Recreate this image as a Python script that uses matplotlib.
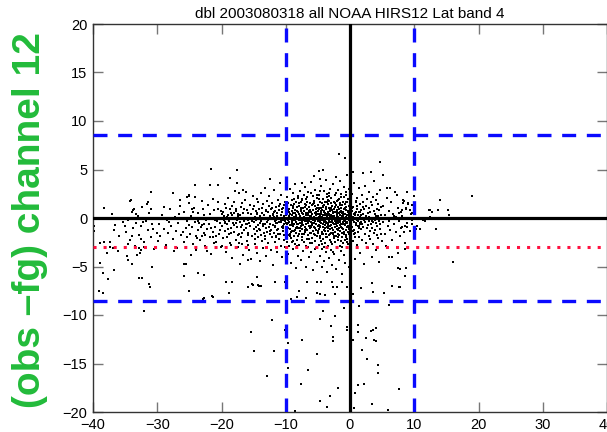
import matplotlib
matplotlib.use("Agg")
import matplotlib.pyplot as plt
import numpy as np

plt.rcParams['font.family'] = ['Liberation Sans', 'DejaVu Sans']

title = "dbl 2003080318 all NOAA HIRS12 Lat band 4"
ylabel = "(obs \u2013fg) channel 12"
xticks = [-40, -30, -20, -10, 0, 10, 20, 30, 40]
yticks = [-20, -15, -10, -5, 0, 5, 10, 15, 20]
box_x = [-10, 10]
box_y = [-8.6, 8.6]
bias_y = -3.0

# dense cloud, read band by band (x, y)
band_left = [(-34.8,-1.4),(-34.5,-0.2),(-34.3,-2.3),(-34.0,0.6),(-33.8,-1.0),(-33.5,-2.9),(-33.3,-0.5),(-33.0,0.2),
    (-32.8,-1.8),(-32.5,-0.8),(-32.3,1.1),(-32.0,-2.5),(-31.8,-0.3),(-31.5,-1.2),(-31.3,0.5),(-31.0,-2.0),(-30.8,-0.6),
    (-30.5,-3.2),(-30.3,0.0),(-30.1,-1.5),(-34.6,-2.7),(-33.6,0.9),(-32.6,-2.2),(-31.6,1.4),(-30.6,-1.1),(-32.9,-3.1),
    (-31.1,-0.1),(-33.9,-1.9),(-30.9,0.9),(-32.2,-0.4),
    (-29.8,-0.6),(-29.5,-1.9),(-29.2,0.3),(-29.0,-1.1),(-28.7,-2.8),(-28.5,-0.2),(-28.3,-1.5),(-28.0,0.9),(-27.8,-0.8),
    (-27.6,-2.2),(-27.3,0.1),(-27.1,-1.3),(-26.9,-3.1),(-26.7,-0.5),(-26.5,1.2),(-26.3,-1.8),(-26.1,-0.1),(-25.9,-2.5),
    (-25.8,0.6),(-25.6,-1.0),(-25.4,-0.3),(-25.3,-2.0),(-25.1,1.5),(-25.0,-0.7),(-29.9,-2.4),(-28.9,1.1),(-27.4,-3.4),
    (-26.0,-1.4),(-28.1,-0.4),(-26.6,0.4)]

band_mid = [(-24.9,-1.6),(-24.8,0.2),(-24.6,-0.9),(-24.5,-2.7),(-24.3,1.0),(-24.2,-0.4),(-24.0,-1.9),(-23.9,-3.3),
    (-23.7,0.5),(-23.6,-1.2),(-23.4,-0.1),(-23.3,-2.3),(-23.1,1.8),(-23.0,-0.7),(-22.8,-1.5),(-22.7,0.3),(-22.5,-2.9),
    (-22.4,-0.2),(-22.2,-1.1),(-22.1,1.3),(-21.9,-0.6),(-21.8,-2.0),(-21.6,-3.7),(-21.5,0.0),(-21.3,-1.4),(-21.2,0.8),
    (-21.0,-0.9),(-20.9,-2.5),(-20.7,-0.3),(-20.6,1.6),(-20.4,-1.7),(-20.3,-0.5),(-20.1,-3.0),(-20.0,0.4),(-24.7,-3.8),
    (-24.1,2.2),(-23.5,-0.5),(-22.9,0.9),(-22.3,-3.4),(-21.7,-1.0),(-21.1,-2.6),(-20.5,0.9),(-20.2,-1.2),(-23.8,-2.1),
    (-22.6,-1.8),(-21.4,2.0),(-24.4,0.6),(-23.2,-0.9),(-22.0,-0.1),(-20.8,-1.9),
    (-19.9,-0.8),(-19.8,0.6),(-19.7,-2.1),(-19.6,-0.2),(-19.5,1.4),(-19.4,-1.3),(-19.3,-3.5),(-19.2,0.1),(-19.1,-0.6),
    (-19.0,2.1),(-18.9,-1.7),(-18.8,-0.3),(-18.7,0.9),(-18.6,-2.6),(-18.5,-1.0),(-18.4,0.3),(-18.3,-4.1),(-18.2,-0.5),
    (-18.1,1.7),(-18.0,-1.4),(-17.9,-0.1),(-17.8,-2.3),(-17.7,0.7),(-17.6,-0.9),(-17.5,-3.0),(-17.4,0.2),(-17.3,2.6),
    (-17.2,-1.6),(-17.1,-0.4),(-17.0,1.1),(-16.9,-2.0),(-16.8,-0.7),(-16.7,0.5),(-16.6,-3.8),(-16.5,-1.2),(-16.4,0.0),
    (-16.3,1.9),(-16.2,-0.6),(-16.1,-2.4),(-16.0,0.8),(-15.9,-1.5),(-15.8,-0.2),(-15.7,-3.3),(-15.6,1.3),(-15.5,-0.8),
    (-15.4,0.4),(-15.3,-1.9),(-15.2,-0.3),(-15.1,2.3),(-15.0,-1.1),(-19.85,-2.9),(-19.25,1.0),(-18.65,-0.1),(-18.05,0.5),
    (-17.45,-1.8),(-16.85,1.5),(-16.25,-1.0),(-15.65,-0.5),(-15.05,0.9),(-19.55,0.2),(-18.95,-1.1),(-18.35,1.2),
    (-17.75,-0.5),(-17.15,0.3),(-16.55,-0.3),(-15.95,-2.8),(-15.35,-4.2),(-17.95,2.8),(-16.15,2.7),(-18.45,-2.8),
    (-24.55,0.9),(-23.65,-0.3),(-22.75,-0.6),(-21.85,0.4),(-20.95,-0.2),(-20.15,0.7),(-19.45,-0.4),(-18.55,0.5),
    (-17.65,-0.2),(-16.75,-1.5),(-15.85,0.5),(-19.15,-2.0),(-17.35,-2.6),(-21.25,-2.0),(-23.05,-1.9)]

band_core = [(-14.95,-0.4),(-14.9,1.2),(-14.85,-1.6),(-14.8,0.1),(-14.75,-2.7),(-14.7,-0.9),(-14.65,0.7),(-14.6,-0.2),
    (-14.55,2.0),(-14.5,-1.3),(-14.45,-3.6),(-14.4,0.4),(-14.35,-0.7),(-14.3,1.6),(-14.25,-2.0),(-14.2,-0.1),(-14.15,0.9),
    (-14.1,-1.1),(-14.05,-4.4),(-14.0,0.2),(-13.95,-0.5),(-13.9,2.6),(-13.85,-1.8),(-13.8,-0.3),(-13.75,1.0),(-13.7,-2.4),
    (-13.65,0.5),(-13.6,-0.8),(-13.55,-3.1),(-13.5,1.4),(-13.45,-0.1),(-13.4,-1.5),(-13.35,0.3),(-13.3,3.1),(-13.25,-0.6),
    (-13.2,-2.2),(-13.15,0.8),(-13.1,-1.0),(-13.05,0.0),(-13.0,-3.9),(-12.95,1.8),(-12.9,-0.4),(-12.85,-1.4),(-12.8,0.6),
    (-12.75,-2.6),(-12.7,-0.2),(-12.65,1.2),(-12.6,-0.9),(-12.55,2.3),(-12.5,-1.7),(-12.45,0.2),(-12.4,-0.6),(-12.35,-3.3),
    (-12.3,0.9),(-12.25,-1.2),(-12.2,-0.1),(-12.15,1.5),(-12.1,-2.0),(-12.05,0.4),(-12.0,-0.7),(-11.95,-4.8),(-11.9,0.1),
    (-11.85,2.9),(-11.8,-1.5),(-11.75,-0.3),(-11.7,0.7),(-11.65,-2.5),(-11.6,-0.8),(-11.55,1.1),(-11.5,-0.2),(-11.45,-1.9),
    (-11.4,0.5),(-11.35,-3.5),(-11.3,-0.5),(-11.25,1.9),(-11.2,-1.1),(-11.15,0.0),(-11.1,-2.2),(-11.05,0.8),(-11.0,-0.4),
    (-10.95,1.4),(-10.9,-1.6),(-10.85,-0.1),(-10.8,-2.9),(-10.75,0.3),(-10.7,2.4),(-10.65,-0.9),(-10.6,-4.0),(-10.55,0.6),
    (-10.5,-1.3),(-10.45,-0.2),(-10.4,1.0),(-10.35,-2.3),(-10.3,-0.6),(-10.25,0.2),(-10.2,-1.8),(-10.15,1.7),(-10.1,-0.3),
    (-10.05,-3.0),(-10.0,0.5),
    (-9.97,0.3),(-9.93,-1.4),(-9.90,1.1),(-9.87,-0.6),(-9.83,-2.5),(-9.80,0.0),(-9.77,2.2),(-9.73,-0.9),(-9.70,-3.7),
    (-9.67,0.6),(-9.63,-0.2),(-9.60,1.5),(-9.57,-1.8),(-9.53,-0.4),(-9.50,0.9),(-9.47,-2.9),(-9.43,0.2),(-9.40,-1.1),
    (-9.37,3.0),(-9.33,-0.7),(-9.30,0.4),(-9.27,-1.6),(-9.23,-4.6),(-9.20,1.3),(-9.17,-0.1),(-9.13,-2.1),(-9.10,0.7),
    (-9.07,-0.5),(-9.03,1.9),(-9.00,-1.3),(-8.97,-0.3),(-8.93,0.5),(-8.90,-3.2),(-8.87,1.0),(-8.83,-0.8),(-8.80,2.6),
    (-8.77,-1.9),(-8.73,0.1),(-8.70,-0.6),(-8.67,1.4),(-8.63,-2.7),(-8.60,-0.2),(-8.57,0.8),(-8.53,-1.2),(-8.50,3.5),
    (-8.47,-0.4),(-8.43,-5.2),(-8.40,0.3),(-8.37,-1.5),(-8.33,1.7),(-8.30,-0.9),(-8.27,0.0),(-8.23,-2.3),(-8.20,1.1),
    (-8.17,-0.6),(-8.13,-3.9),(-8.10,0.6),(-8.07,-1.0),(-8.03,2.1),(-8.00,-0.2),(-7.97,-1.7),(-7.93,0.4),(-7.90,-2.8),
    (-7.87,1.2),(-7.83,-0.5),(-7.80,2.8),(-7.77,-1.3),(-7.73,0.2),(-7.70,-0.8),(-7.67,1.6),(-7.63,-4.3),(-7.60,-0.1),
    (-7.57,0.9),(-7.53,-2.0),(-7.50,-0.4),(-7.47,1.9),(-7.43,-1.1),(-7.40,0.5),(-7.37,-3.4),(-7.33,-0.7),(-7.30,1.0),
    (-7.27,-0.2),(-7.23,2.4),(-7.20,-1.6),(-7.17,0.1),(-7.13,-2.5),(-7.10,0.7),(-7.07,-0.9),(-7.03,3.2),(-7.00,-0.3),
    (-6.97,-1.4),(-6.93,1.4),(-6.90,-5.0),(-6.87,0.3),(-6.83,-0.6),(-6.80,2.0),(-6.77,-2.2),(-6.73,-0.1),(-6.70,0.9),
    (-6.67,-1.2),(-6.63,1.7),(-6.60,-3.0),(-6.57,-0.5),(-6.53,0.5),(-6.50,-1.8),(-6.47,2.7),(-6.43,-0.3),(-6.40,-4.0),
    (-6.37,1.1),(-6.33,-0.8),(-6.30,0.2),(-6.27,-2.6),(-6.23,1.5),(-6.20,-1.0),(-6.17,0.0),(-6.13,3.7),(-6.10,-1.5),
    (-6.07,0.6),(-6.03,-0.4),(-6.00,-3.5),(-5.97,1.3),(-5.93,-0.7),(-5.90,0.4),(-5.87,-2.1),(-5.83,2.3),(-5.80,-0.2),
    (-5.77,-1.3),(-5.73,0.8),(-5.70,-5.4),(-5.67,-0.5),(-5.63,1.8),(-5.60,-1.7),(-5.57,0.1),(-5.53,-0.9),(-5.50,2.9),
    (-5.47,-2.4),(-5.43,0.5),(-5.40,-0.3),(-5.37,1.2),(-5.33,-1.2),(-5.30,-3.1),(-5.27,0.3),(-5.23,-0.6),(-5.20,2.1),
    (-5.17,-1.9),(-5.13,0.0),(-5.10,1.0),(-5.07,-4.5),(-5.03,-0.8),(-5.00,0.7)]

band_peak = [(-4.98,-0.3),(-4.95,1.3),(-4.93,-1.5),(-4.90,0.4),(-4.88,-2.8),(-4.85,-0.7),(-4.83,2.4),(-4.80,0.1),
    (-4.78,-1.1),(-4.75,0.9),(-4.73,-3.9),(-4.70,-0.4),(-4.68,1.7),(-4.65,-1.9),(-4.63,0.2),(-4.60,-0.8),(-4.58,3.3),
    (-4.55,-0.1),(-4.53,-2.4),(-4.50,1.0),(-4.48,-0.5),(-4.45,0.6),(-4.43,-1.4),(-4.40,-5.1),(-4.38,1.5),(-4.35,-0.2),
    (-4.33,-3.2),(-4.30,0.8),(-4.28,-0.9),(-4.25,2.0),(-4.23,-1.7),(-4.20,0.3),(-4.18,-0.6),(-4.15,1.2),(-4.13,-2.2),
    (-4.10,-0.3),(-4.08,0.7),(-4.05,-4.4),(-4.03,2.8),(-4.00,-1.2),(-3.98,0.0),(-3.95,-0.7),(-3.93,1.6),(-3.90,-2.6),
    (-3.88,0.5),(-3.85,-1.0),(-3.83,-0.2),(-3.80,3.9),(-3.78,-1.6),(-3.75,0.9),(-3.73,-3.5),(-3.70,-0.4),(-3.68,1.1),
    (-3.65,-0.9),(-3.63,2.2),(-3.60,-2.0),(-3.58,0.2),(-3.55,-0.5),(-3.53,-5.6),(-3.50,1.4),(-3.48,-1.3),(-3.45,0.6),
    (-3.43,-0.1),(-3.40,-2.9),(-3.38,1.9),(-3.35,-0.6),(-3.33,0.4),(-3.30,-1.8),(-3.28,2.6),(-3.25,-0.3),(-3.23,-4.1),
    (-3.20,1.0),(-3.18,-1.1),(-3.15,0.1),(-3.13,-0.8),(-3.10,3.0),(-3.08,-2.3),(-3.05,0.7),(-3.03,-0.4),(-3.00,1.5),
    (-2.98,-1.5),(-2.95,-3.3),(-2.93,0.3),(-2.90,-0.7),(-2.88,2.1),(-2.85,-1.0),(-2.83,0.8),(-2.80,-2.7),(-2.78,-0.2),
    (-2.75,1.2),(-2.73,-4.8),(-2.70,-0.5),(-2.68,0.5),(-2.65,-1.7),(-2.63,3.5),(-2.60,-0.1),(-2.58,-1.2),(-2.55,1.7),
    (-2.53,-2.1),(-2.50,0.2),(-2.48,-0.6),(-2.45,0.9),(-2.43,-3.7),(-2.40,-0.9),(-2.38,2.4),(-2.35,-0.3),(-2.33,-1.4),
    (-2.30,0.6),(-2.28,-2.5),(-2.25,1.3),(-2.23,-0.4),(-2.20,-5.3),(-2.18,0.0),(-2.15,-1.9),(-2.13,4.2),(-2.10,-0.8),
    (-2.08,0.4),(-2.05,-1.1),(-2.03,1.8),(-2.00,-3.0),(-1.98,-0.2),(-1.95,0.8),(-1.93,-1.6),(-1.90,2.9),(-1.88,-0.5),
    (-1.85,-2.3),(-1.83,0.1),(-1.80,1.1),(-1.78,-1.0),(-1.75,-4.3),(-1.73,0.5),(-1.70,-0.3),(-1.68,2.0),(-1.65,-1.8),
    (-1.63,-0.7),(-1.60,0.3),(-1.58,-2.9),(-1.55,1.5),(-1.53,-0.4),(-1.50,3.8),(-1.48,-1.3),(-1.45,0.7),(-1.43,-0.1),
    (-1.40,-3.4),(-1.38,1.0),(-1.35,-0.9),(-1.33,2.5),(-1.30,-2.0),(-1.28,0.2),(-1.25,-0.6),(-1.23,-5.8),(-1.20,1.3),
    (-1.18,-1.5),(-1.15,0.0),(-1.13,-2.6),(-1.10,1.7),(-1.08,-0.4),(-1.05,0.6),(-1.03,-1.1),(-1.00,3.2),(-0.98,-3.8),
    (-0.95,-0.2),(-0.93,0.9),(-0.90,-1.7),(-0.88,2.2),(-0.85,-0.7),(-0.83,0.4),(-0.80,-2.3),(-0.78,1.4),(-0.75,-0.3),
    (-0.73,-4.6),(-0.70,0.8),(-0.68,-1.2),(-0.65,2.7),(-0.63,-0.5),(-0.60,0.1),(-0.58,-2.0),(-0.55,1.1),(-0.53,-0.9),
    (-0.50,4.4),(-0.48,-3.1),(-0.45,0.3),(-0.43,-0.4),(-0.40,1.6),(-0.38,-1.4),(-0.35,-0.1),(-0.33,2.0),(-0.30,-2.7),
    (-0.28,0.6),(-0.25,-0.8),(-0.23,-5.0),(-0.20,1.2),(-0.18,-0.2),(-0.15,-1.6),(-0.13,3.0),(-0.10,0.4),(-0.08,-1.0),
    (-0.05,-3.6),(-0.03,0.9)]

# extra points where the cloud is nearly solid
band_dense = [(-11.9,0.6),(-11.7,-0.9),(-11.4,0.2),(-11.2,-1.7),(-11.0,1.2),(-10.8,-0.4),(-10.6,0.9),(-10.4,-1.0),
    (-10.2,0.1),(-10.0,-2.1),(-9.85,1.7),(-9.65,-0.5),(-9.45,0.6),(-9.25,-1.4),(-9.05,0.3),(-8.85,-0.2),(-8.65,2.0),
    (-8.45,-1.0),(-8.25,0.7),(-8.05,-1.9),(-7.85,0.0),(-7.65,1.0),(-7.45,-0.6),(-7.25,0.4),(-7.05,-1.2),(-6.85,1.3),
    (-6.65,-0.3),(-6.45,0.7),(-6.25,-1.5),(-6.05,0.2),(-5.85,-0.5),(-5.65,1.5),(-5.45,-1.0),(-5.25,0.6),(-5.05,-0.1),
    (-4.87,2.0),(-4.72,-0.9),(-4.57,0.4),(-4.42,-1.6),(-4.27,1.1),(-4.12,-0.4),(-3.97,0.6),(-3.82,-1.3),(-3.67,0.0),
    (-3.52,1.7),(-3.37,-0.8),(-3.22,0.3),(-3.07,-1.6),(-2.92,1.0),(-2.77,-0.3),(-2.62,0.6),(-2.47,-1.9),(-2.32,1.5),
    (-2.17,-0.6),(-2.02,0.2),(-1.87,-1.2),(-1.72,0.9),(-1.57,-0.2),(-1.42,2.2),(-1.27,-1.0),(-1.12,0.4),(-0.97,-0.6),
    (-0.82,1.0),(-0.67,-1.8),(-0.52,0.0),(-0.37,0.7),(-0.22,-1.1),(-0.07,1.4),(0.15,-0.3),(0.35,1.0),(0.55,-1.6),
    (0.75,0.3),(0.95,-0.5),(1.15,1.2),(1.35,-1.0),(1.55,0.1),(1.75,-0.4),(1.95,1.1),(-4.6,-0.2),(-3.9,0.3),(-3.2,-0.4),
    (-2.5,0.1),(-1.8,-0.3),(-1.1,0.2),(-0.4,-0.5),(-5.3,0.9),(-6.1,-0.8),(-6.9,0.5),(-7.6,-0.2),(-8.4,0.2),(-9.1,-0.7),
    (-9.8,0.4),(-10.7,-0.2),(-11.5,-0.5),(-2.9,-2.5),(-2.2,2.6),(-1.4,-2.4),(-0.6,2.4),(-3.6,2.5),(-4.4,-2.7),(-5.1,2.4),
    (-5.9,-2.6),(-6.7,2.2),(-7.4,-2.3),(-8.1,2.3),(-8.8,-2.4),(-0.9,-0.1),(-1.6,0.6),(-2.4,-0.9),(-3.1,0.8),(-3.8,-0.5),
    (-4.5,0.7),(-5.5,-0.3),(-6.3,0.8),
    (-9.9,-0.5),(-9.6,0.8),(-9.4,-1.9),(-9.2,0.0),(-8.9,1.2),(-8.7,-1.3),(-8.5,0.5),(-8.3,-0.6),(-8.0,1.5),(-7.8,-1.0),
    (-7.6,0.7),(-7.4,-1.7),(-7.2,-0.1),(-7.0,1.1),(-6.8,-1.1),(-6.6,0.3),(-6.4,-2.2),(-6.2,0.6),(-6.0,-0.9),(-5.8,1.4),
    (-5.6,-0.2),(-5.4,-1.8),(-5.2,0.4),(-5.0,-1.3),(-4.8,1.0),(-4.6,-2.1),(-4.4,0.1),(-4.2,-0.9),(-4.0,1.3),(-3.8,-2.0),
    (-3.6,0.4),(-3.4,-1.0),(-3.2,1.8),(-3.0,-0.7),(-2.8,0.2),(-2.6,-1.5),(-2.4,1.1),(-2.2,-0.2),(-2.0,0.6),(-1.8,-2.0),
    (-1.6,1.3),(-1.4,-0.6),(-1.2,0.5),(-1.0,-1.4),(-0.8,-0.3),(-0.6,1.7),(-0.4,-2.2),(-0.2,0.2),(0.0,-0.7),(0.2,1.2),
    (0.4,-1.3),(0.6,0.4),(0.8,-2.0),(1.0,1.6),(1.2,-0.8),(1.4,0.6),(-9.7,-1.0),(-9.0,-2.5),(-8.2,-2.9),(-7.5,2.0),
    (-6.8,-2.9),(-6.1,2.6),(-5.4,-3.2),(-4.7,2.8),(-4.0,-3.0),(-3.3,2.3),(-2.6,-3.5),(-1.9,1.9),(-1.2,-3.0),(-0.5,-2.5),
    (-13.5,-0.6),(-13.0,0.7),(-12.5,-1.3),(-12.0,0.3),(-11.5,-2.0),(-11.0,0.0),(-10.5,-0.8),(-14.0,-1.2),(-14.5,0.5),
    (-15.5,0.0),(-16.0,-0.6),(-16.5,0.9),(-17.0,-0.9),(-17.5,0.4),(-18.0,-0.7),(-18.5,-1.5),(-19.0,0.3),(-19.5,-0.5),
    (-13.2,-1.9),(-12.2,1.0),(-11.3,-1.2),(-10.3,1.3),(-14.8,-2.2),(-15.8,-1.8),(-16.8,-2.7),(-17.8,0.9)]

band_right = [(0.03,-0.5),(0.08,1.5),(0.13,-1.8),(0.18,0.2),(0.23,-3.3),(0.28,2.5),(0.33,-0.9),(0.38,0.7),(0.43,-0.2),
    (0.48,-2.4),(0.53,1.1),(0.58,-1.2),(0.63,3.6),(0.68,-0.4),(0.73,0.5),(0.78,-4.2),(0.83,-1.5),(0.88,1.8),(0.93,-0.1),
    (0.98,-0.7),(1.03,0.9),(1.08,-2.8),(1.13,2.1),(1.18,-0.3),(1.23,-1.4),(1.28,0.3),(1.33,-0.8),(1.38,3.1),(1.43,-2.0),
    (1.48,0.6),(1.53,-0.5),(1.58,1.4),(1.63,-3.6),(1.68,-0.1),(1.73,0.8),(1.78,-1.1),(1.83,2.4),(1.88,-0.6),(1.93,-2.3),
    (1.98,0.4),(2.03,-0.9),(2.08,1.6),(2.13,-4.7),(2.18,-0.2),(2.23,0.9),(2.28,-1.6),(2.33,3.3),(2.38,-0.4),(2.43,0.2),
    (2.48,-2.6),(2.53,1.2),(2.58,-1.0),(2.63,-0.1),(2.68,2.0),(2.73,-3.1),(2.78,0.5),(2.83,-0.7),(2.88,1.0),(2.93,-1.9),
    (2.98,2.7),(3.03,-0.3),(3.08,-1.3),(3.13,0.6),(3.18,-2.2),(3.23,1.7),(3.28,-0.6),(3.33,0.0),(3.38,-4.0),(3.43,1.3),
    (3.48,-1.0),(3.53,2.2),(3.58,-0.4),(3.63,-2.7),(3.68,0.7),(3.73,-1.5),(3.78,3.8),(3.83,-0.2),(3.88,0.4),(3.93,-1.2),
    (3.98,1.9),(4.03,-3.3),(4.08,-0.5),(4.13,0.9),(4.18,-1.8),(4.23,2.5),(4.28,-0.8),(4.33,0.2),(4.38,-2.1),(4.43,1.4),
    (4.48,-0.3),(4.53,-4.5),(4.58,0.8),(4.63,-1.1),(4.68,2.9),(4.73,-0.6),(4.78,0.3),(4.83,-1.6),(4.88,1.1),(4.93,-2.4),
    (4.98,-0.1),(0.50,0.1),(1.10,-0.2),(1.70,0.3),(2.30,-0.4),(2.90,0.1),(3.50,-0.3),(4.10,0.2),(0.20,-0.9),(0.90,0.6),
    (1.60,-0.6),
    (5.1,-0.4),(5.2,1.2),(5.4,-1.6),(5.5,0.3),(5.6,-2.9),(5.8,2.1),(5.9,-0.8),(6.0,0.7),(6.2,-1.2),(6.3,-0.1),(6.4,1.6),
    (6.6,-2.3),(6.7,0.4),(6.8,-0.6),(7.0,2.7),(7.1,-1.4),(7.2,0.1),(7.4,-3.6),(7.5,1.0),(7.6,-0.3),(7.8,-1.9),(7.9,0.6),
    (8.1,-0.9),(8.2,1.9),(8.4,0.0),(8.5,-2.6),(8.7,0.9),(8.9,-0.5),(9.1,1.4),(9.3,-1.3),(9.5,0.4),(9.7,-0.2),(9.9,2.3),
    (5.3,-0.1),(6.1,-0.3),(6.9,0.2),(7.7,0.5),(5.7,3.1),(6.5,-4.0),(7.3,2.4)]

# isolated points
tail_below = [(-19.3,-6.6),(-18.4,-6.6),(-21.5,-8.0),(-22.9,-8.3),(-18.8,-7.7),(-15.3,-6.8),(-15.1,-6.9),(-14.2,-7.0),
    (-13.8,-7.0),(-15.9,-7.1),(-11.7,-6.6),(-10.1,-6.6),(-9.2,-8.3),(-8.3,-8.1),(-7.9,-7.5),(-6.9,-8.2),(-6.7,-6.6),
    (-5.2,-6.6),(-5.1,-7.7),(-4.6,-7.8),(-3.9,-7.9),(-4.5,-6.6),(-2.8,-6.6),(-2.6,-7.1),(-2.3,-7.8),(-2.1,-7.1),
    (-1.3,-6.6),(-0.5,-7.1),(0.4,-7.8),(1.7,-7.2),(3.4,-6.7),(3.6,-7.6),(5.3,-7.7),(6.5,-7.0),(7.7,-7.1),(6.0,-9.0),
    (1.4,-9.1),(-0.9,-9.3),(-4.2,-9.6),(-2.4,-10.1),(-4.7,-10.4),(-12.2,-10.5),(-10.1,-11.5),(-15.4,-11.8),(-3.0,-11.1),
    (-0.5,-11.2),(-0.5,-11.5),(1.3,-11.0),(1.3,-11.8),(3.2,-11.6),(3.6,-11.5),(4.0,-11.3),(2.5,-12.4),(3.8,-12.6),
    (4.0,-12.7),(-2.6,-12.3),(-2.7,-12.7),(0.5,-12.6),(-7.4,-12.6),(-9.7,-12.9),(-14.9,-13.7),(-11.8,-13.7),(-5.1,-14.0),
    (-10.0,-14.0),(1.8,-13.6),(2.7,-14.5),(4.4,-15.2),(4.4,-16.0),(-6.6,-15.7),(-9.7,-15.5),(-12.9,-16.3),(-7.6,-17.1),
    (-1.9,-17.5),(1.2,-17.2),(0.8,-18.0),(2.2,-17.1),(7.7,-17.6),(-3.1,-18.4),(-4.6,-18.9),(-3.6,-19.5),(0.7,-19.6),
    (3.5,-19.2),(5.9,-19.8),(-8.6,-19.9)]

tail_right = [(-1.7,6.6),(-0.8,6.2),(4.6,5.8),(-4.9,4.8),(-4.2,4.9),(-5.6,4.3),(-4.7,4.0),(-7.5,3.6),(-12.5,4.0),
    (-10.9,3.6),(0.5,4.7),(2.0,4.6),(3.2,4.7),(5.1,4.4),(6.2,3.1),(8.8,2.7),(8.4,1.8),(14.0,1.9),(12.4,0.8),(13.7,0.8),
    (15.3,0.8),(11.4,-0.2),(13.4,-1.1),(10.3,-1.1),(10.9,-1.1),(7.5,-5.2),(8.7,-5.2),(8.6,-6.0),(6.0,-4.0),(19.0,2.3),
    (15.4,0.3),(12.3,0.8),(12.7,0.6),(12.5,0.1),(11.7,-0.3),(16.0,-4.5),(8.2,1.5),(9.0,1.5),(9.7,1.3),(8.7,1.0),
    (8.1,0.8),(9.3,0.8),(9.6,0.5),(8.1,0.2),(8.0,-1.0),(8.5,-0.8),(8.9,-0.9),(8.4,-1.4),(9.6,-0.6),(10.0,-0.9),
    (10.5,-0.8),(8.6,-3.2),(7.8,-5.3),(8.5,-6.0),(7.8,-7.1)]

tail_left = [(-21.6,5.1),(-24.2,3.4),(-21.8,3.4),(-30.9,2.7),(-27.5,2.6),(-34.2,1.8),(-31.4,1.7),(-38.3,1.0),
    (-33.7,0.8),(-33.3,0.4),(-37.1,0.4),(-39.8,-0.8),(-39.8,-1.3),(-36.6,-0.7),(-36.8,-1.2),(-35.3,-0.4),(-35.0,-0.8),
    (-36.0,-1.9),(-38.9,-2.6),(-38.3,-2.5),(-37.3,-2.5),(-37.8,-3.6),(-36.1,-3.4),(-34.7,-3.9),(-34.0,-4.7),(-38.9,-4.6),
    (-38.4,-5.7),(-37.7,-6.3),(-36.8,-5.4),(-32.9,-6.2),(-30.8,-5.1),(-31.3,-6.8),(-25.6,-4.7),(-25.8,-6.0),(-25.0,-7.5),
    (-23.7,-5.7),(-22.7,-5.9),(-39.0,-7.5),(-32.0,-9.6),(-22.7,-8.2),(-33.2,-3.8),(-32.7,-3.6),(-32.5,-3.3),(-32.1,-3.0),
    (-34.6,-4.3),(-37.3,-3.0),(-36.9,-3.1),(-26.5,1.9),(-25.4,2.2),(-25.0,2.4),(-17.6,4.9),(-17.6,3.6),(-18.7,4.1),
    (-20.5,3.4),(-25.1,2.3),(-34.1,1.9),(-16.6,2.9),(-31.2,-7.1),(-38.5,-7.7),(-21.3,-8.1),(-17.1,-4.7),(-15.8,-4.3),
    (-14.5,-6.1),(-14.3,-6.9),(-25.9,-4.7),(-30.8,-5.0),(-32.4,-6.2)]

pts = np.array(band_left + band_mid + band_core + band_peak + band_dense + band_right
               + tail_below + tail_right + tail_left)

fig = plt.figure(figsize=(6.07, 4.32), dpi=100)
ax = fig.add_axes([93/607, 20/432, 514/607, 388/432])

ax.plot(pts[:, 0], pts[:, 1], 's', color='black', markersize=2.1, markeredgewidth=0, zorder=2)

for xv in box_x:
    ax.axvline(xv, color='#0a0aff', lw=2.4, linestyle=(0, (4.2, 3.2)), zorder=3)
for yv in box_y:
    ax.axhline(yv, color='#0a0aff', lw=2.4, linestyle=(0, (4.2, 3.2)), zorder=3)
ax.axhline(bias_y, color='#ff1040', lw=2.2, linestyle=(0, (1, 2.3)), zorder=3)
ax.axhline(0, color='black', lw=2.3, zorder=4)
ax.axvline(0, color='black', lw=2.3, zorder=4)

ax.set_xlim(-40, 40)
ax.set_ylim(-20, 20)
ax.set_xticks(xticks)
ax.set_yticks(yticks)
ax.tick_params(direction='in', length=7, width=1, color='#777777', top=True, right=True,
               labelsize=10.5, pad=4)
for s in ax.spines.values():
    s.set_linewidth(1.0)
    s.set_color('#333333')
ax.set_title(title, fontsize=11, pad=4)

fig.text(30/607, 1 - 220/432, ylabel, rotation=90, ha='center', va='center',
         fontsize=28, fontweight='bold', color='#22bb3a')

plt.savefig('out.png', dpi=100)
